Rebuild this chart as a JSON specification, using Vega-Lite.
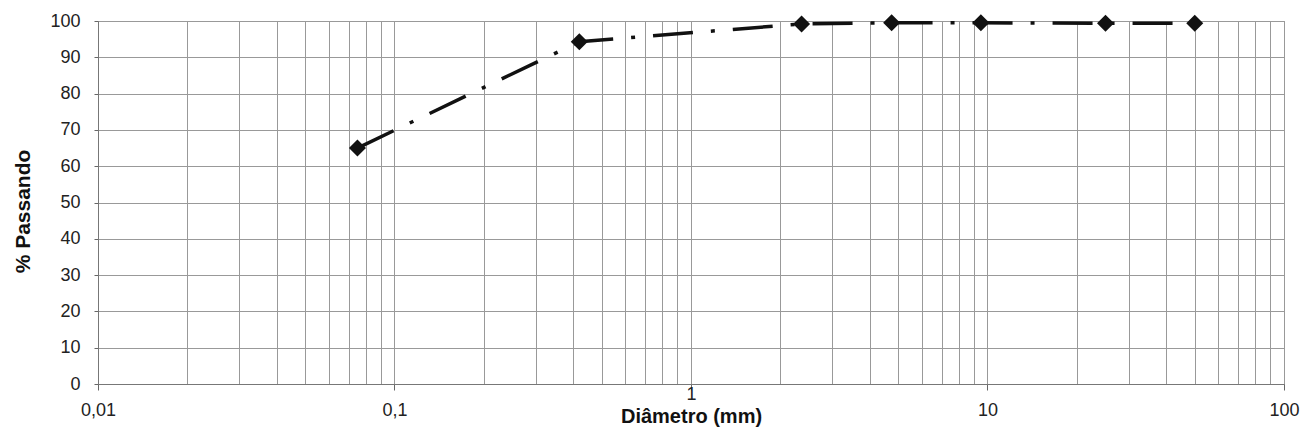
{
  "$schema": "https://vega.github.io/schema/vega-lite/v6.json",
  "width": 1186,
  "height": 363,
  "autosize": {"type": "none"},
  "padding": {"left": 98, "top": 21, "right": 26, "bottom": 53},
  "background": "white",
  "config": {
    "view": {"stroke": "#888", "strokeWidth": 1},
    "font": "Liberation Sans"
  },
  "data": {
    "values": [
      {"d": 0.075, "p": 65},
      {"d": 0.42, "p": 94.3},
      {"d": 2.36, "p": 99.2},
      {"d": 4.75, "p": 99.5},
      {"d": 9.5, "p": 99.5},
      {"d": 25, "p": 99.4},
      {"d": 50, "p": 99.4}
    ]
  },
  "encoding": {
    "x": {
      "field": "d",
      "type": "quantitative",
      "scale": {"type": "log", "domain": [0.01, 100], "nice": false},
      "axis": {
        "values": [0.01, 0.02, 0.03, 0.04, 0.05, 0.06, 0.07, 0.08, 0.09, 0.1, 0.2, 0.3, 0.4, 0.5, 0.6, 0.7, 0.8, 0.9, 1, 2, 3, 4, 5, 6, 7, 8, 9, 10, 20, 30, 40, 50, 60, 70, 80, 90, 100],
        "grid": true,
        "gridColor": "#999",
        "gridWidth": 1,
        "gridOpacity": 1,
        "domainColor": "#777",
        "tickColor": "#666",
        "tickSize": 6,
        "tickOpacity": {"condition": {"test": "indexof([0.01, 0.1, 1, 10, 100], datum.value) >= 0", "value": 1}, "value": 0},
        "labelExpr": "indexof([0.01, 0.1, 1, 10, 100], datum.value) >= 0 ? replace(format(datum.value, '~g'), '.', ',') : ''",
        "labelFontSize": 18,
        "labelColor": "#222",
        "labelPadding": {"condition": {"test": "datum.value == 1", "value": -5}, "value": 11},
        "labelFlush": false,
        "labelBound": false,
        "labelOverlap": false,
        "title": "Diâmetro (mm)",
        "titleFontSize": 20,
        "titleFontWeight": "bold",
        "titleColor": "#111",
        "titleY": 38,
        "titleBaseline": "alphabetic"
      }
    },
    "y": {
      "field": "p",
      "type": "quantitative",
      "scale": {"domain": [0, 100], "nice": false},
      "axis": {
        "values": [0, 10, 20, 30, 40, 50, 60, 70, 80, 90, 100],
        "grid": true,
        "gridColor": "#999",
        "gridWidth": 1,
        "gridOpacity": 1,
        "domainColor": "#777",
        "tickColor": "#666",
        "tickSize": 4,
        "labelFontSize": 18,
        "labelColor": "#222",
        "labelPadding": 14,
        "labelFlush": false,
        "labelBound": false,
        "labelOverlap": false,
        "title": "% Passando",
        "titleFontSize": 21,
        "titleFontWeight": "bold",
        "titleColor": "#111",
        "titleX": -75,
        "titleY": 190,
        "titleAngle": -90,
        "titleAlign": "center",
        "titleBaseline": "middle"
      }
    }
  },
  "layer": [
    {
      "mark": {"type": "line", "color": "#111", "strokeWidth": 3.5, "strokeDash": [40, 18, 4, 18], "strokeCap": "butt"}
    },
    {
      "mark": {"type": "point", "shape": "diamond", "filled": true, "color": "#111", "opacity": 1, "size": 290}
    }
  ]
}
